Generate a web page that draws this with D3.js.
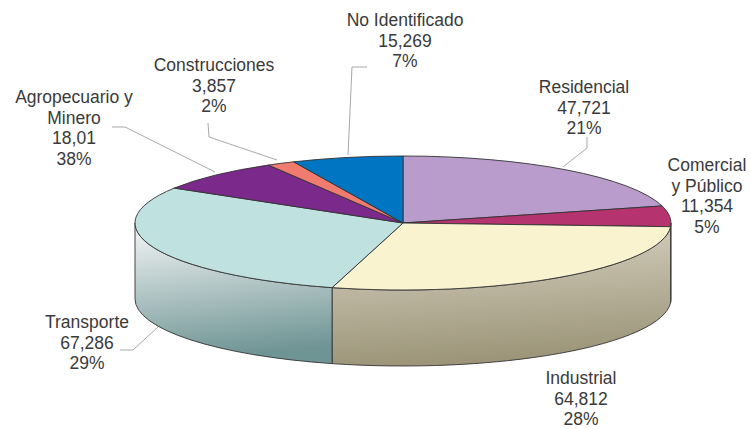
<!DOCTYPE html>
<html>
<head>
<meta charset="utf-8">
<script src="https://cdn.jsdelivr.net/npm/d3@7"></script>
<style>
  body { margin: 0; background: #fff; }
  svg text { font-family: "Liberation Sans", Arial, sans-serif; }
</style>
</head>
<body>
<div id="chart"></div>
<script>
// data
var categories = ["Residencial", "Comercial y Público", "Industrial", "Transporte",
                  "Agropecuario y Minero", "Construcciones", "No Identificado"];
var values = [47721, 11354, 64812, 67286, 18010, 3857, 15269];
var valueLabels = ["47,721", "11,354", "64,812", "67,286", "18,01", "3,857", "15,269"];
var pctLabels = ["21%", "5%", "28%", "29%", "38%", "2%", "7%"];

var topColors = ["#b99ccb", "#b5346f", "#f9f3d0", "#bfe1df", "#7b2a8b", "#f27b70", "#0075c1"];
var sideTop = ["#a32a5e", "#a32a5e", "#d8d3c3", "#f6f7f7", "#5e1f6b", "#c9605a", "#005a94"];
var sideBottom = ["#7d1f47", "#7d1f47", "#9c9579", "#6f9494", "#4a1555", "#a04a45", "#00456f"];

// label placement (text lines and leader lines)
var labelLayout = [
  {x: 584, y: 87,  lines: ["Residencial"], leader: [[587, 137], [587, 148], [563, 167]]},
  {x: 707, y: 165, lines: ["Comercial", "y Público"], leader: null},
  {x: 581, y: 378, lines: ["Industrial"], leader: null},
  {x: 87,  y: 322, lines: ["Transporte"], leader: [[120, 350], [133, 350], [158, 327]]},
  {x: 74,  y: 97,  lines: ["Agropecuario y", "Minero"], leader: [[112, 127], [125, 127], [215, 172]]},
  {x: 214, y: 65,  lines: ["Construcciones"], leader: [[208, 123], [209, 137], [277, 160]]},
  {x: 405, y: 20,  lines: ["No Identificado"], leader: [[367, 67], [352, 67], [348, 155]]}
];

var chart = {};
chart.width = 750;
chart.height = 429;
chart.cx = 403;
chart.cy = 223;
chart.rx = 268;
chart.ry = 67;
chart.depth = 76;

chart.init = function(){
    chart.svg = d3.select("#chart").append("svg")
        .attr("width", chart.width)
        .attr("height", chart.height);
    chart.defs = chart.svg.append("defs");
};

// point on the ellipse, angle measured clockwise from the top
chart.pt = function(a, yc){
    return [chart.cx + chart.rx * Math.sin(a), yc - chart.ry * Math.cos(a)];
};

chart.topPath = function(d){
    var p0 = chart.pt(d.startAngle, chart.cy), p1 = chart.pt(d.endAngle, chart.cy);
    var large = (d.endAngle - d.startAngle) > Math.PI ? 1 : 0;
    return "M" + chart.cx + "," + chart.cy + "L" + p0 + "A" + chart.rx + "," + chart.ry +
        " 0 " + large + " 1 " + p1 + "Z";
};

chart.sidePath = function(s0, s1){
    var yb = chart.cy + chart.depth;
    var a = chart.pt(s0, chart.cy), b = chart.pt(s1, chart.cy);
    var c = chart.pt(s1, yb), e = chart.pt(s0, yb);
    var r = chart.rx + "," + chart.ry;
    return "M" + a + "A" + r + " 0 0 1 " + b + "L" + c + "A" + r + " 0 0 0 " + e + "Z";
};

chart.render = function(){
    var pie = d3.pie().sort(null).startAngle(0).endAngle(2 * Math.PI);
    var arcs = pie(values);

    var color = d3.scaleOrdinal().domain(categories).range(topColors);

    // gradients for the sides (light at top, darker at bottom)
    arcs.forEach(function(d, i){
        var g = chart.defs.append("linearGradient")
            .attr("id", "side" + i)
            .attr("x1", 0).attr("y1", 0)
            .attr("x2", 0.15).attr("y2", 1);
        g.append("stop").attr("offset", 0).attr("stop-color", sideTop[i]);
        g.append("stop").attr("offset", 1).attr("stop-color", sideBottom[i]);
    });

    // sides, only the front half of the pie is visible
    var lo = Math.PI / 2, hi = 3 * Math.PI / 2;
    var sides = chart.svg.append("g");
    arcs.forEach(function(d, i){
        var s0 = Math.max(d.startAngle, lo), s1 = Math.min(d.endAngle, hi);
        if (s1 <= s0) return;
        sides.append("path")
            .attr("d", chart.sidePath(s0, s1))
            .attr("fill", "url(#side" + i + ")")
            .attr("stroke", "#333")
            .attr("stroke-width", 0.9)
            .attr("stroke-linejoin", "round");
    });

    // top faces
    chart.svg.append("g").selectAll("path")
        .data(arcs)
        .enter().append("path")
        .attr("d", chart.topPath)
        .attr("fill", function(d, i){ return color(categories[i]); })
        .attr("stroke", "#333")
        .attr("stroke-width", 0.9)
        .attr("stroke-linejoin", "round");

    // leader lines
    var line = d3.line();
    chart.svg.append("g").selectAll("path")
        .data(labelLayout.filter(function(l){ return l.leader; }))
        .enter().append("path")
        .attr("d", function(l){ return line(l.leader); })
        .attr("fill", "none")
        .attr("stroke", "#a8a8a8")
        .attr("stroke-width", 1);

    // labels
    var labels = chart.svg.append("g");
    labelLayout.forEach(function(l, i){
        var rows = l.lines.concat([valueLabels[i], pctLabels[i]]);
        var t = labels.append("text")
            .attr("text-anchor", "middle")
            .attr("font-size", "17.5px")
            .attr("fill", "#3a3a3a");
        rows.forEach(function(r, j){
            t.append("tspan")
                .attr("x", l.x)
                .attr("y", l.y + j * 20.5)
                .attr("dy", "0.35em")
                .text(r);
        });
    });
};

chart.init();
chart.render();
</script>
</body>
</html>
